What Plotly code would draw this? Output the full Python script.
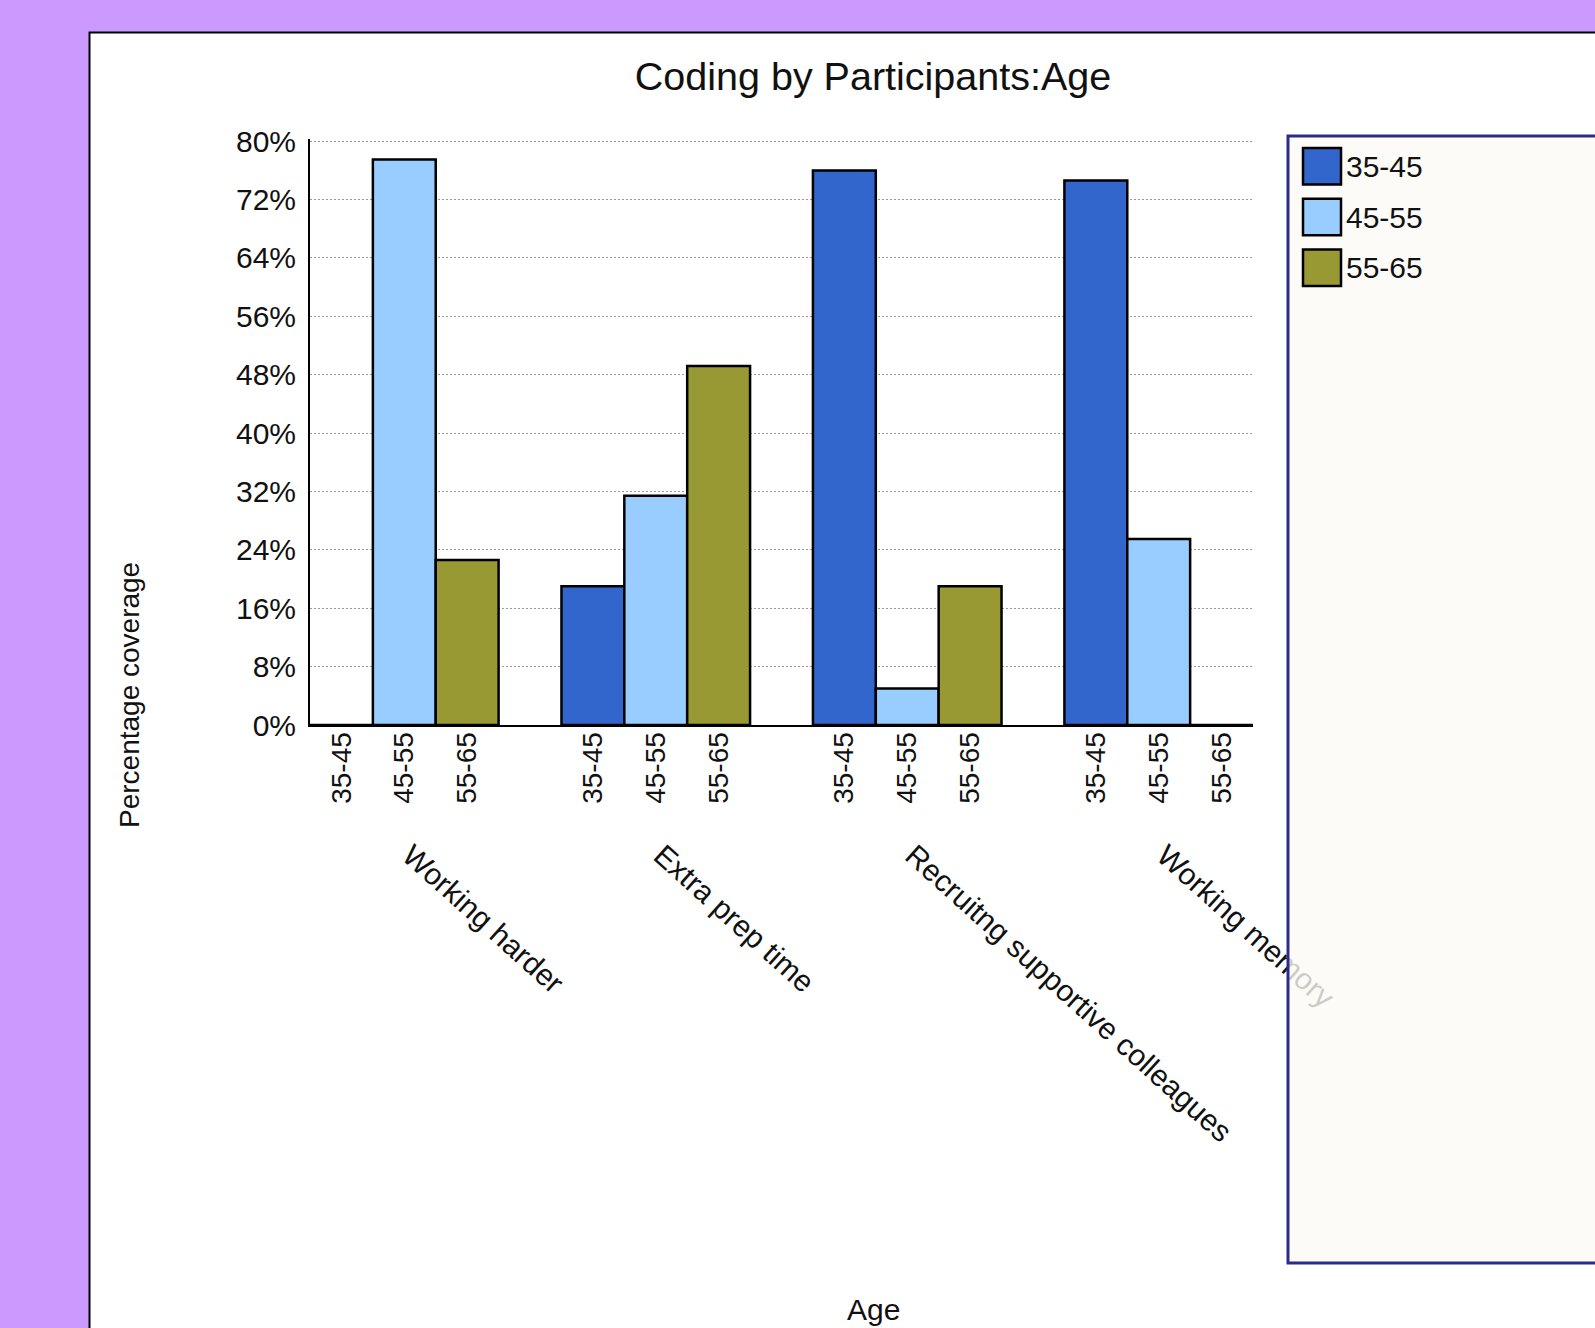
import plotly.graph_objects as go

# ---- data -------------------------------------------------------------
groups = ["Working harder", "Extra prep time",
          "Recruitng supportive colleagues", "Working memory"]
ages = ["35-45", "45-55", "55-65"]

coverage_35_45 = [0.0, 19.0, 76.0, 74.6]
coverage_45_55 = [77.5, 31.4, 5.0, 25.5]
coverage_55_65 = [22.6, 49.2, 19.0, 0.0]

y_tick_values = [0, 8, 16, 24, 32, 40, 48, 56, 64, 72, 80]
y_tick_labels = [f"{v}%" for v in y_tick_values]

# ---- styling ----------------------------------------------------------
series = [coverage_35_45, coverage_45_55, coverage_55_65]
bar_colors = ["#3366CC", "#99CCFF", "#999933"]
FONT = "Liberation Sans, Arial, Helvetica, sans-serif"
INK = "#111111"

W, H = 1595, 1328
M_L, M_R, M_T, M_B = 310, 342, 139, 603
PW = W - M_L - M_R
PH = H - M_T - M_B


def px_x(px):
    """Absolute pixel x -> paper fraction."""
    return (px - M_L) / PW


def px_y(py):
    """Absolute pixel y (from top) -> paper fraction."""
    return (H - M_B - py) / PH


# each group takes three slots plus one empty slot as a spacer
slots_per_group = len(ages) + 1

fig = go.Figure()
for k, (age, vals, col) in enumerate(zip(ages, series, bar_colors)):
    fig.add_trace(go.Bar(
        x=[g * slots_per_group + k for g in range(len(groups))],
        y=vals,
        width=1.0,
        name=age,
        marker=dict(color=col, line=dict(color="black", width=2.5)),
        showlegend=False,
        hovertemplate=age + ": %{y:.1f}%<extra></extra>",
    ))

age_tick_pos = [g * slots_per_group + k
                for g in range(len(groups)) for k in range(len(ages))]
age_tick_text = [a for _ in groups for a in ages]
group_tick_pos = [g * slots_per_group + 1 for g in range(len(groups))]
x_range = [-0.5, len(groups) * slots_per_group - 1.5]

# carrier for the secondary (category-name) axis; draws nothing itself
fig.add_trace(go.Scatter(
    x=group_tick_pos, y=[0] * len(group_tick_pos), xaxis="x2",
    mode="markers", marker=dict(size=1, opacity=0),
    showlegend=False, hoverinfo="skip",
))

shapes = [
    # white chart panel on the lilac page
    dict(type="rect", xref="paper", yref="paper",
         x0=px_x(89.5), x1=px_x(1640), y0=px_y(1360), y1=px_y(32.5),
         fillcolor="white", line=dict(color="black", width=2), layer="below"),
    # legend panel, drawn over the long category label
    dict(type="rect", xref="paper", yref="paper",
         x0=px_x(1288), x1=px_x(1660), y0=px_y(1263), y1=px_y(136),
         fillcolor="rgba(252,250,246,0.8)",
         line=dict(color="#2B2B8C", width=3), layer="above"),
]

annotations = [
    dict(text="Percentage coverage", xref="paper", yref="paper",
         x=px_x(129), y=px_y(695), textangle=-90, showarrow=False,
         xanchor="center", yanchor="middle",
         font=dict(family=FONT, size=28, color=INK)),
    dict(text="Age", xref="paper", yref="paper",
         x=px_x(873), y=px_y(1309), showarrow=False,
         xanchor="center", yanchor="middle",
         font=dict(family=FONT, size=30, color=INK)),
]

# legend entries: swatch + label
sw_x0, sw_x1 = 1303, 1341
sw_top0, sw_step, sw_h = 148, 50.8, 36.5
for k, (age, col) in enumerate(zip(ages, bar_colors)):
    top = sw_top0 + k * sw_step
    shapes.append(dict(type="rect", xref="paper", yref="paper",
                       x0=px_x(sw_x0), x1=px_x(sw_x1),
                       y0=px_y(top + sw_h), y1=px_y(top),
                       fillcolor=col, line=dict(color="black", width=2.5),
                       layer="above"))
    annotations.append(dict(text=age, xref="paper", yref="paper",
                            x=px_x(sw_x1 + 3), y=px_y(top + sw_h / 2),
                            xanchor="left", yanchor="middle", showarrow=False,
                            font=dict(family=FONT, size=30, color=INK)))

fig.update_layout(
    width=W, height=H,
    margin=dict(l=M_L, r=M_R, t=M_T, b=M_B),
    paper_bgcolor="#CC99FF",
    plot_bgcolor="rgba(0,0,0,0)",
    barmode="overlay",
    font=dict(family=FONT, color=INK),
    title=dict(text="Coding by Participants:Age",
               xref="paper", x=px_x(873), xanchor="center",
               yref="container", y=1 - 76 / H, yanchor="middle",
               font=dict(family=FONT, size=39.5, color=INK)),
    xaxis=dict(
        range=x_range, tickmode="array",
        tickvals=age_tick_pos, ticktext=age_tick_text,
        tickangle=-90, tickfont=dict(size=28, color=INK),
        ticks="", ticklabelstandoff=-6,
        showgrid=False, zeroline=False,
        showline=True, linecolor="black", linewidth=2,
    ),
    xaxis2=dict(
        overlaying="x", anchor="y", side="bottom",
        range=x_range, tickmode="array",
        tickvals=group_tick_pos, ticktext=groups,
        tickangle=42, tickfont=dict(size=30, color=INK),
        ticks="", ticklabelstandoff=106, ticklabelshift=6,
        showgrid=False, zeroline=False, showline=False,
    ),
    yaxis=dict(
        range=[0, 80.3], tickmode="array",
        tickvals=y_tick_values, ticktext=y_tick_labels,
        tickfont=dict(size=30, color=INK),
        ticks="", ticklabelstandoff=6,
        showgrid=True, gridcolor="#9A9A9A", gridwidth=1, griddash="2px,2px",
        zeroline=False,
        showline=True, linecolor="black", linewidth=2,
    ),
    shapes=shapes,
    annotations=annotations,
)

fig.write_html("out.html")
